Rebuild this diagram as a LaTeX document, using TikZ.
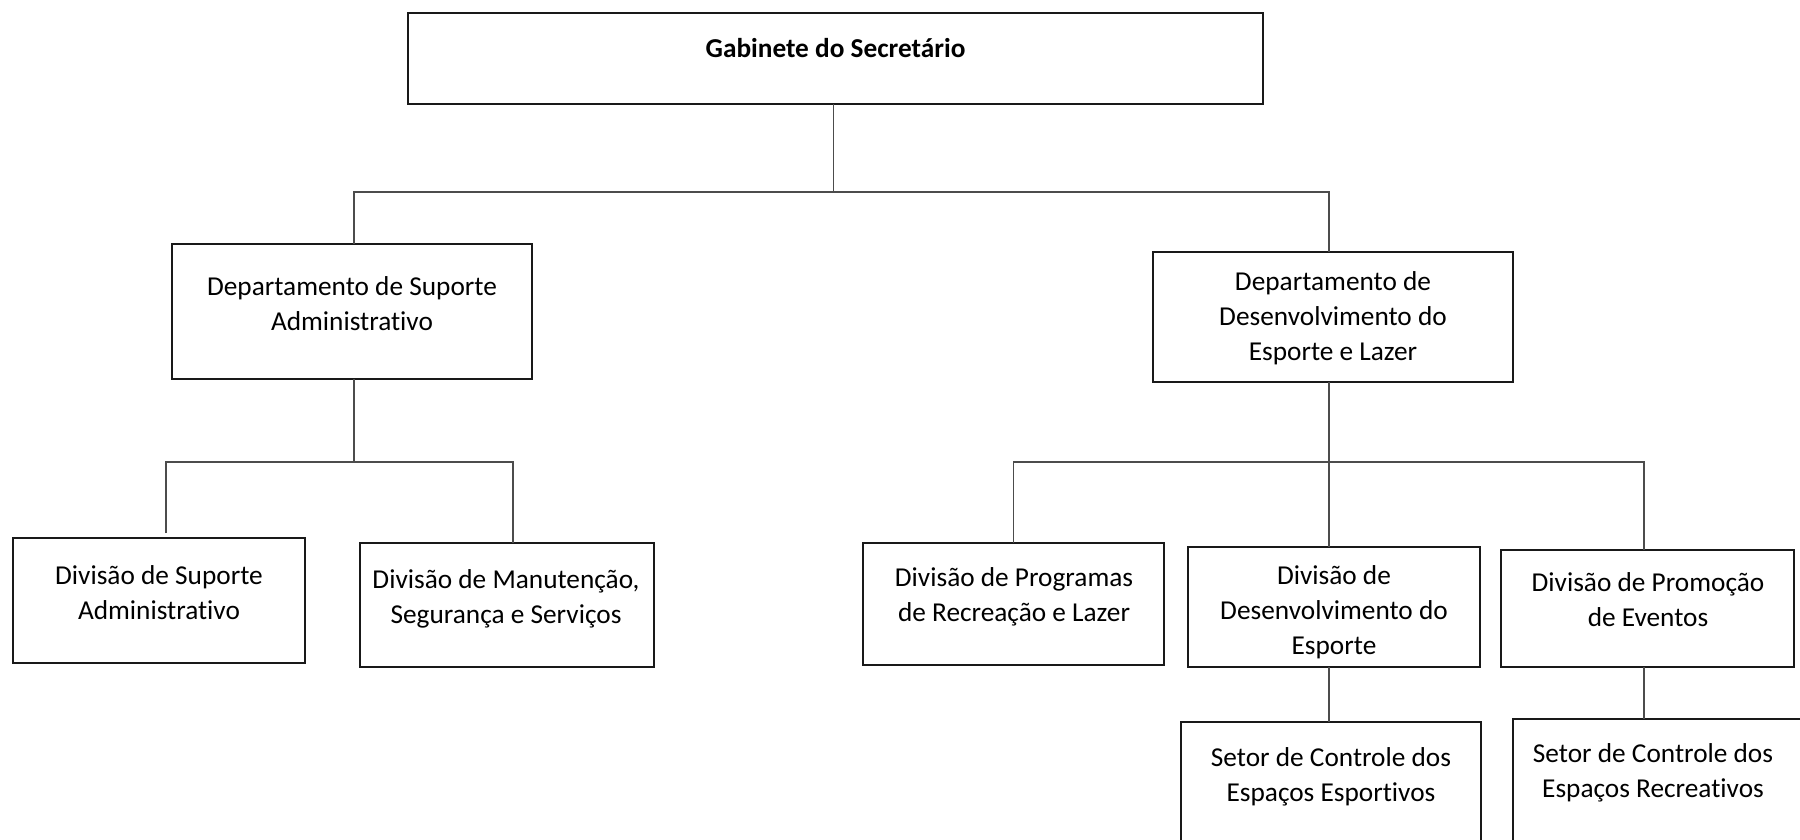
\documentclass[tikz,border=0pt]{standalone}
\usepackage{fontspec}
\setmainfont[Ligatures=NoCommon]{Carlito}
\begin{document}
\begin{tikzpicture}[x=1pt,y=-1pt,
  orgbox/.style={draw=black!90, line width=2.4pt, rectangle, inner sep=0pt, outer sep=0pt},
  lbl/.style={anchor=base, inner sep=0pt, outer sep=0pt, text=black, font=\fontsize{27.3}{35}\selectfont},
  conn/.style={draw=black!70, line width=1.3pt}]
\useasboundingbox (0,0) rectangle (1800,839);
\clip (0,0) rectangle (1800,839);
\fill[white] (0,0) rectangle (1800,839);
% boxes
\node[orgbox, minimum width=855pt, minimum height=91pt] (gab) at (835.5,58.5) {};
\node[orgbox, minimum width=360pt, minimum height=135pt] (dsa) at (352,311.5) {};
\node[orgbox, minimum width=360pt, minimum height=130pt] (dde) at (1333,317) {};
\node[orgbox, minimum width=292pt, minimum height=125pt] (dvs) at (159,600.5) {};
\node[orgbox, minimum width=294pt, minimum height=124pt] (dvm) at (507,605) {};
\node[orgbox, minimum width=301pt, minimum height=122pt] (dvp) at (1013.5,604) {};
\node[orgbox, minimum width=292pt, minimum height=120pt] (dvd) at (1334,607) {};
\node[orgbox, minimum width=293pt, minimum height=117pt] (dve) at (1647.5,608.5) {};
\node[orgbox, minimum width=300pt, minimum height=178pt] (sce) at (1331,811) {};
\node[orgbox, minimum width=317pt, minimum height=181pt] (scr) at (1671.5,809.5) {};
% labels
\node[lbl, font=\fontsize{27.3}{35}\selectfont\bfseries] (tgab) at (835.5,57) {Gabinete do Secretário};
\node[lbl] (tdsa) at (352,295) {\begin{tabular}[t]{@{}c@{}}Departamento de Suporte\\Administrativo\end{tabular}};
\node[lbl] (tdde) at (1333,290) {\begin{tabular}[t]{@{}c@{}}Departamento de\\Desenvolvimento do\\Esporte e Lazer\end{tabular}};
\node[lbl] (tdvs) at (159,584) {\begin{tabular}[t]{@{}c@{}}Divisão de Suporte\\Administrativo\end{tabular}};
\node[lbl] (tdvm) at (506,588) {\begin{tabular}[t]{@{}c@{}}Divisão de Manutenção,\\Segurança e Serviços\end{tabular}};
\node[lbl] (tdvp) at (1014,586) {\begin{tabular}[t]{@{}c@{}}Divisão de Programas\\de Recreação e Lazer\end{tabular}};
\node[lbl] (tdvd) at (1334,584) {\begin{tabular}[t]{@{}c@{}}Divisão de\\Desenvolvimento do\\Esporte\end{tabular}};
\node[lbl] (tdve) at (1648,591) {\begin{tabular}[t]{@{}c@{}}Divisão de Promoção\\de Eventos\end{tabular}};
\node[lbl] (tsce) at (1331,766) {\begin{tabular}[t]{@{}c@{}}Setor de Controle dos\\Espaços Esportivos\end{tabular}};
\node[lbl] (tscr) at (1653,762) {\begin{tabular}[t]{@{}c@{}}Setor de Controle dos\\Espaços Recreativos\end{tabular}};
% bus coordinates
\coordinate (busA) at (0,192);
\coordinate (busB) at (0,462);
% level 1
\draw[conn] ([xshift=-2pt]gab.south) -- ([xshift=-2pt]gab.south |- busA);
\draw[conn] ([xshift=2pt]dsa.north) |- ([xshift=-4pt]dde.north |- busA) -- ([xshift=-4pt]dde.north);
% level 2 left
\draw[conn] ([xshift=2pt]dsa.south) -- ([xshift=2pt]dsa.south |- busB);
\draw[conn] ([xshift=7pt,yshift=5pt]dvs.north) |- ([xshift=6pt]dvm.north |- busB) -- ([xshift=6pt]dvm.north);
% level 2 right
\draw[conn] ([xshift=-4pt]dde.south) -- ([xshift=-4pt]dde.south |- busB);
\draw[conn] (dvp.north) |- ([xshift=-3.5pt]dve.north |- busB) -- ([xshift=-3.5pt]dve.north);
\draw[conn] ([xshift=-5pt]dvd.north) -- ([xshift=-5pt]dvd.north |- busB);
% level 3
\draw[conn] ([xshift=-5pt]dvd.south) -- ([xshift=-5pt]dvd.south |- sce.north);
\draw[conn] ([xshift=-3.5pt]dve.south) -- ([xshift=-3.5pt]dve.south |- scr.north);
\end{tikzpicture}
\end{document}
